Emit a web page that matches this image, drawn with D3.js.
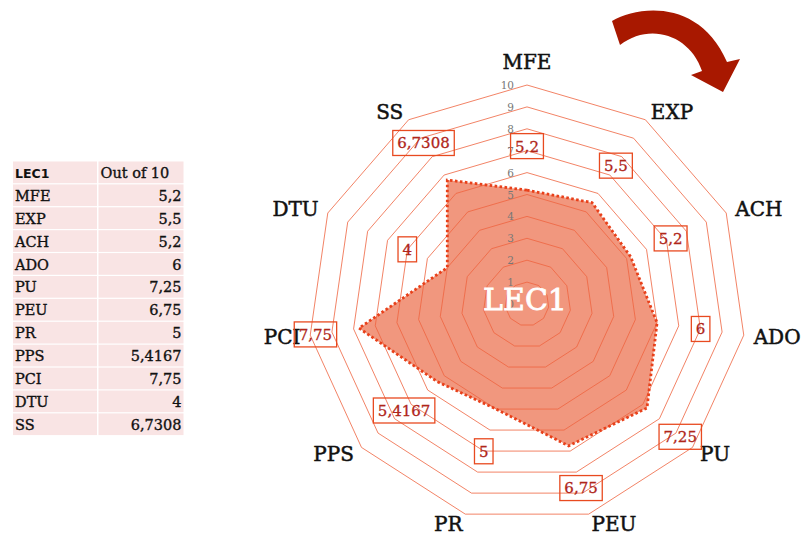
<!DOCTYPE html>
<html>
<head>
<meta charset="utf-8">
<script src="https://cdn.jsdelivr.net/npm/d3@7"></script>
<style>
  html, body { margin: 0; padding: 0; background: #fff; }
  svg { display: block; }
</style>
</head>
<body>
<svg id="chart" width="805" height="536"></svg>
<script>
// --- Data ---
const categories = ["MFE", "EXP", "ACH", "ADO", "PU", "PEU", "PR", "PPS", "PCI", "DTU", "SS"];
const values = [5.2, 5.5, 5.2, 6, 7.25, 6.75, 5, 5.4167, 7.75, 4, 6.7308];
const ringTicks = [0, 1, 2, 3, 4, 5, 6, 7, 8, 9, 10];
const seriesName = "LEC1";
const tableHeader = ["LEC1", "Out of 10"];

const fmt = v => String(v).replace(".", ",");

const svg = d3.select("#chart");
const cx = 527, cy = 304, R = 219;
const step = 2 * Math.PI / categories.length;
const r = d3.scaleLinear().domain([0, 10]).range([0, R]);
const serif = "'DejaVu Serif', 'Liberation Serif', serif";

// --- Table on the left ---
const tbl = svg.append("g").attr("class", "table");
const rowH = 22.9, tableTop = 161.5;
const rows = [tableHeader].concat(categories.map((c, i) => [c, fmt(values[i])]));
rows.forEach((row, i) => {
  const y = tableTop + i * rowH;
  tbl.append("rect").attr("x", 13).attr("y", y).attr("width", 84).attr("height", rowH - 1.2).attr("fill", "#f9e4e4");
  tbl.append("rect").attr("x", 98.5).attr("y", y).attr("width", 85).attr("height", rowH - 1.2).attr("fill", "#f9e4e4");
  tbl.append("text")
    .attr("x", 15).attr("y", y + rowH / 2 + 5)
    .attr("font-family", i === 0 ? "'DejaVu Sans', sans-serif" : serif)
    .attr("font-weight", i === 0 ? "bold" : "normal")
    .attr("font-size", i === 0 ? 12.5 : 14.5)
    .attr("fill", "#111")
    .attr("stroke", "#111").attr("stroke-width", i === 0 ? 0 : 0.35)
    .text(row[0]);
  tbl.append("text")
    .attr("x", i === 0 ? 100.5 : 181.5).attr("y", y + rowH / 2 + 5)
    .attr("text-anchor", i === 0 ? "start" : "end")
    .attr("font-family", serif).attr("font-size", 14.5)
    .attr("fill", "#111")
    .attr("stroke", "#111").attr("stroke-width", 0.35)
    .text(row[1]);
});

// --- Radar ---
const g = svg.append("g").attr("transform", `translate(${cx},${cy})`);
const radial = d3.lineRadial()
  .angle((d, i) => i * step)
  .curve(d3.curveLinearClosed);

// data area
g.append("path")
  .datum(values)
  .attr("d", radial.radius(d => r(d)))
  .attr("fill", "#f1977e");

// rings
g.append("g").selectAll("path")
  .data(ringTicks.filter(t => t > 0))
  .join("path")
  .attr("d", t => radial.radius(() => r(t))(categories))
  .attr("fill", "none")
  .attr("stroke", "#ef6440")
  .attr("stroke-opacity", 0.8)
  .attr("stroke-width", 1);

// dotted outline
g.append("path")
  .datum(values)
  .attr("d", radial.radius(d => r(d)))
  .attr("fill", "none")
  .attr("stroke", "#e8401a")
  .attr("stroke-width", 2.8)
  .attr("stroke-dasharray", "2.6 2.4");

// tick labels along the MFE axis
g.append("g").selectAll("text")
  .data(ringTicks)
  .join("text")
  .attr("x", -13)
  .attr("y", t => -r(t) + 4)
  .attr("text-anchor", "end")
  .attr("font-family", serif)
  .attr("font-size", 10.5)
  .attr("fill", "#777")
  .text(t => t);

// series name in the middle
g.append("text")
  .attr("x", -2).attr("y", 6)
  .attr("text-anchor", "middle")
  .attr("font-family", serif)
  .attr("font-size", 30)
  .attr("fill", "#fff")
  .attr("stroke", "#fff").attr("stroke-width", 0.8)
  .text(seriesName);

// category labels
g.append("g").selectAll("text")
  .data(categories)
  .join("text")
  .each(function (c, i) {
    const a = i * step, s = Math.sin(a), co = Math.cos(a);
    const rr = R + 10;
    const anchor = Math.abs(s) < 0.1 ? "middle" : (s > 0 ? "start" : "end");
    d3.select(this)
      .attr("x", rr * s)
      .attr("y", -rr * co + (anchor === "middle" ? -13 : 0))
      .attr("dy", "0.36em")
      .attr("text-anchor", anchor);
  })
  .attr("font-family", serif)
  .attr("font-size", 20)
  .attr("fill", "#111")
  .attr("stroke", "#111").attr("stroke-width", 0.5)
  .text(c => c);

// boxed value labels
const lab = g.append("g").selectAll("g")
  .data(values)
  .join("g")
  .attr("transform", (v, i) => {
    const rr = r(v) + 44;
    return `translate(${rr * Math.sin(i * step)},${-rr * Math.cos(i * step)})`;
  });
lab.append("text")
  .attr("text-anchor", "middle")
  .attr("dy", "0.36em")
  .attr("font-family", serif)
  .attr("font-size", 15)
  .attr("fill", "#b0261a")
  .attr("stroke", "#b0261a").attr("stroke-width", 0.3)
  .text(v => fmt(v));
lab.each(function () {
  const t = d3.select(this).select("text");
  const b = t.node().getBBox();
  d3.select(this).insert("rect", "text")
    .attr("x", b.x - 4.5).attr("y", -12.5)
    .attr("width", b.width + 9).attr("height", 25)
    .attr("fill", "none")
    .attr("stroke", "#e84a20")
    .attr("stroke-width", 1.3);
});

// --- Curved arrow (decoration, top right) ---
svg.append("path")
  .attr("d", "M612,21 C640,5 700,0 727,62 L740,59 L723,92 L691,75 L702,71 C690,35 650,22 620,45 Z")
  .attr("fill", "#a81800");
</script>
</body>
</html>
